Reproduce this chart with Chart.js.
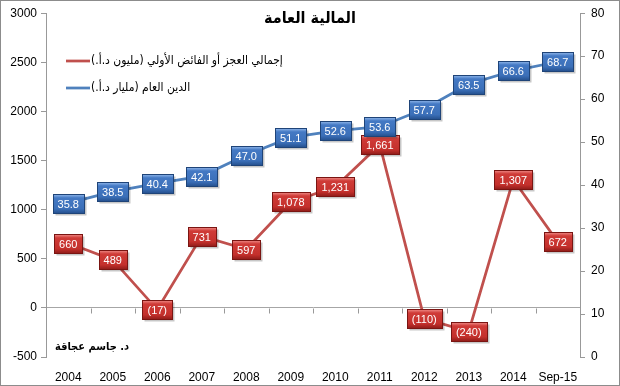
<!DOCTYPE html>
<html lang="ar">
<head>
<meta charset="utf-8">
<script src="https://cdn.jsdelivr.net/npm/chart.js@4.4.1/dist/chart.umd.min.js"></script>
<style>
  html, body { margin: 0; padding: 0; background: #fff; }
  #wrap { width: 620px; height: 386px; position: relative; }
</style>
</head>
<body>
<div id="wrap"><canvas id="chartMaliya" width="620" height="386"></canvas></div>
<script>
'use strict';

// ── Datos ─────────────────────────────────────────────
const categorias = ['2004', '2005', '2006', '2007', '2008', '2009', '2010', '2011', '2012', '2013', '2014', 'Sep-15'];
const deficitPrimario = [660, 489, -17, 731, 597, 1078, 1231, 1661, -110, -240, 1307, 672];   // مليون د.أ.
const deudaPublica = [35.8, 38.5, 40.4, 42.1, 47.0, 51.1, 52.6, 53.6, 57.7, 63.5, 66.6, 68.7]; // مليار د.أ.
const ticksIzq = [-500, 0, 500, 1000, 1500, 2000, 2500, 3000];
const ticksDer = [0, 10, 20, 30, 40, 50, 60, 70, 80];

const titulo = 'المالية العامة';
const nombreRojo = 'إجمالي العجز أو الفائض الأولي (مليون د.أ.)';
const nombreAzul = 'الدين العام (مليار د.أ.)';
const autor = 'د. جاسم عجاقة';

const ROJO = '#c0504d';
const AZUL = '#4f81bd';
const fuenteAr = '"DejaVu Sans Condensed", "DejaVu Sans", sans-serif';
const fuenteNum = '"Liberation Sans", Arial, sans-serif';

function fmtRojo(v) {
    const s = Math.abs(v).toLocaleString('en-US');
    return v < 0 ? '(' + s + ')' : s;
}
function fmtAzul(v) {
    return v.toFixed(1);
}

// ── Etiquetas tipo caja (estilo Excel, con bisel) ─────
const pluginEtiquetas = {
    id: 'etiquetas',
    afterDatasetsDraw(chart) {
        const ctx = chart.ctx;
        ctx.save();
        ctx.font = '11px ' + fuenteNum;
        ctx.textAlign = 'center';
        ctx.textBaseline = 'middle';
        chart.data.datasets.forEach((ds, i) => {
            const meta = chart.getDatasetMeta(i);
            const tonos = i === 0
                ? ['#ef8a86', '#cf3b37', '#c4302c', '#8f1c19']
                : ['#8fb6ea', '#4479c4', '#3b6fb8', '#244f8c'];
            const borde = i === 0 ? '#7a1512' : '#1f4478';
            meta.data.forEach((pt, j) => {
                const txt = i === 0 ? fmtRojo(ds.data[j]) : fmtAzul(ds.data[j]);
                const w = Math.round(ctx.measureText(txt).width) + 10;
                const h = 19;
                const x = Math.round(pt.x - w / 2) + 0.5;
                const y = Math.round(pt.y - h / 2) + 0.5;
                // sombra
                ctx.fillStyle = 'rgba(0,0,0,0.22)';
                ctx.fillRect(x + 2, y + 2, w, h);
                const g = ctx.createLinearGradient(0, y, 0, y + h);
                g.addColorStop(0, tonos[0]);
                g.addColorStop(0.18, tonos[1]);
                g.addColorStop(0.75, tonos[2]);
                g.addColorStop(1, tonos[3]);
                ctx.fillStyle = g;
                ctx.fillRect(x, y, w, h);
                ctx.strokeStyle = borde;
                ctx.lineWidth = 1;
                ctx.strokeRect(x, y, w, h);
                ctx.fillStyle = '#ffffff';
                ctx.fillText(txt, pt.x, y + h / 2 + 0.5);
            });
        });
        ctx.restore();
    }
};

// ── Título, leyenda, autor, marcas del eje X y marco ──
const pluginDecoracion = {
    id: 'decoracion',
    afterDraw(chart) {
        const ctx = chart.ctx;
        const area = chart.chartArea;
        const y = chart.scales.y;
        ctx.save();

        // marcas sobre la línea del cero
        const y0 = Math.round(y.getPixelForValue(0)) + 0.5;
        ctx.strokeStyle = '#999';
        ctx.lineWidth = 1;
        const paso = (area.right - area.left) / categorias.length;
        for (let k = 1; k < categorias.length; k++) {
            const px = Math.round(area.left + paso * k) + 0.5;
            ctx.beginPath();
            ctx.moveTo(px, y0);
            ctx.lineTo(px, y0 + 5);
            ctx.stroke();
        }

        // título
        ctx.fillStyle = '#000';
        ctx.textAlign = 'center';
        ctx.textBaseline = 'middle';
        ctx.font = 'bold 16px ' + fuenteAr;
        ctx.fillText(titulo, 310, 19);

        // leyenda
        ctx.font = '12px ' + fuenteAr;
        [[nombreRojo, ROJO, 61], [nombreAzul, AZUL, 88]].forEach(([txt, col, ly]) => {
            ctx.strokeStyle = col;
            ctx.lineWidth = 2.75;
            ctx.beginPath();
            ctx.moveTo(66, ly);
            ctx.lineTo(90, ly);
            ctx.stroke();
            ctx.fillStyle = '#000';
            ctx.direction = 'rtl';
            ctx.textAlign = 'right';
            ctx.fillText(txt, 91 + ctx.measureText(txt).width, ly);
            ctx.direction = 'ltr';
        });

        // autor
        ctx.font = 'bold 11px ' + fuenteAr;
        ctx.textAlign = 'center';
        ctx.direction = 'rtl';
        ctx.fillText(autor, 92, 347);
        ctx.direction = 'ltr';

        // marco
        ctx.strokeStyle = '#8c8c8c';
        ctx.lineWidth = 1;
        ctx.strokeRect(0.5, 0.5, chart.width - 1, chart.height - 1);
        ctx.restore();
    }
};

new Chart(document.getElementById('chartMaliya').getContext('2d'), {
    type: 'line',
    data: {
        labels: categorias,
        datasets: [
            {
                label: nombreRojo,
                data: deficitPrimario,
                borderColor: ROJO,
                borderWidth: 2.75,
                pointRadius: 0,
                tension: 0,
                yAxisID: 'y'
            },
            {
                label: nombreAzul,
                data: deudaPublica,
                borderColor: AZUL,
                borderWidth: 2.75,
                pointRadius: 0,
                tension: 0,
                yAxisID: 'y1'
            }
        ]
    },
    options: {
        responsive: false,
        animation: false,
        layout: { padding: { top: 10, left: 0, right: 0, bottom: 0 } },
        plugins: {
            legend: { display: false },
            title: { display: false },
            tooltip: { enabled: false }
        },
        scales: {
            x: {
                offset: true,
                grid: { display: false },
                border: { display: false },
                ticks: {
                    color: '#000',
                    padding: 5,
                    maxRotation: 0,
                    autoSkip: false,
                    font: { family: fuenteNum, size: 12 }
                },
                afterFit(scale) { scale.height = 29; }
            },
            y: {
                position: 'left',
                min: -500,
                max: 3000,
                afterBuildTicks(scale) { scale.ticks = ticksIzq.map(v => ({ value: v })); },
                grid: {
                    color: ctx => (ctx.tick && ctx.tick.value === 0) ? '#a6a6a6' : 'rgba(0,0,0,0)',
                    tickColor: '#999',
                    tickLength: 5
                },
                border: { display: true, color: '#999' },
                ticks: {
                    color: '#000',
                    padding: 4,
                    callback: v => String(v),
                    font: { family: fuenteNum, size: 12 }
                },
                afterFit(scale) { scale.width = 46; }
            },
            y1: {
                position: 'right',
                min: 0,
                max: 80,
                afterBuildTicks(scale) { scale.ticks = ticksDer.map(v => ({ value: v })); },
                grid: {
                    drawOnChartArea: false,
                    tickColor: '#999',
                    tickLength: 5
                },
                border: { display: true, color: '#999' },
                ticks: {
                    color: '#000',
                    padding: 6,
                    callback: v => String(v),
                    font: { family: fuenteNum, size: 12 }
                },
                afterFit(scale) { scale.width = 40; }
            }
        }
    },
    plugins: [pluginEtiquetas, pluginDecoracion]
});
</script>
</body>
</html>
